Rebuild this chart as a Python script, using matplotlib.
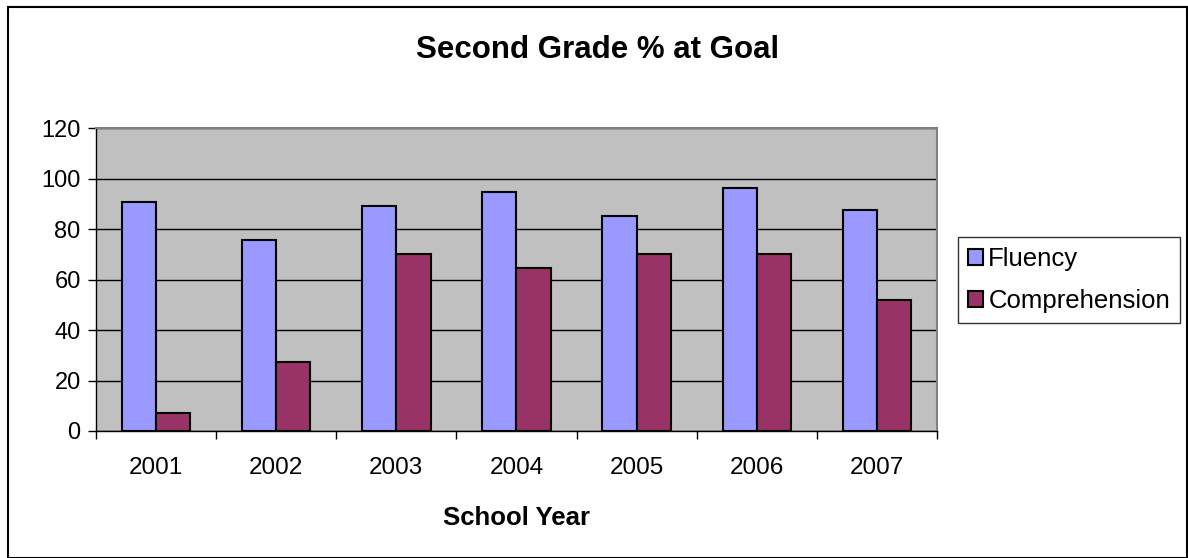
import numpy as np
import matplotlib.pyplot as plt
from matplotlib.patches import Rectangle

years = ['2001', '2002', '2003', '2004', '2005', '2006', '2007']
fluency = [90.7, 75.5, 89.0, 94.5, 85.0, 96.1, 87.4]
comprehension = [7, 27.4, 70, 64.6, 70, 70, 52]

plt.rcParams['font.family'] = ['Liberation Sans', 'DejaVu Sans']

fig = plt.figure(figsize=(11.88, 5.58), dpi=100)
ax = fig.add_axes([0.0808, 0.2276, 0.7079, 0.543])

x = np.arange(len(years))
w = 0.285
ax.bar(x - w / 2, fluency, w, color='#9999ff', edgecolor='black', linewidth=1.5, label='Fluency', zorder=3)
ax.bar(x + w / 2, comprehension, w, color='#993366', edgecolor='black', linewidth=1.5, label='Comprehension', zorder=3)

ax.set_facecolor('#c0c0c0')
ax.set_xlim(-0.5, len(years) - 0.5)
ax.set_ylim(0, 120)
ax.set_yticks(range(0, 121, 20))
ax.yaxis.grid(True, color='black', linewidth=1)
ax.set_axisbelow(True)

ax.set_xticks(x)
ax.set_xticklabels(years)
ax.set_xticks(np.arange(-0.5, len(years), 1), minor=True)
ax.tick_params(axis='x', which='major', length=0, pad=19, labelsize=17.5)
ax.tick_params(axis='x', which='minor', length=6, width=1)
ax.tick_params(axis='y', length=6, width=1, labelsize=17, pad=5)

for s in ['top', 'right']:
    ax.spines[s].set_color('#808080')
    ax.spines[s].set_linewidth(1.5)
for s in ['left', 'bottom']:
    ax.spines[s].set_color('black')
    ax.spines[s].set_linewidth(1)

ax.set_xlabel('School Year', fontsize=18.5, fontweight='bold', labelpad=19)
fig.text(0.503, 0.911, 'Second Grade % at Goal', ha='center', va='center',
         fontsize=22.5, fontweight='bold')

leg = ax.legend(loc='center left', bbox_to_anchor=(0.806, 0.4986), bbox_transform=fig.transFigure,
                frameon=True, fancybox=False, fontsize=18.5, handlelength=0.6, handleheight=0.6,
                handletextpad=0.2, labelspacing=0.7, borderpad=0.4, borderaxespad=0)
leg.get_frame().set_edgecolor('black')
leg.get_frame().set_linewidth(1)

fig.patches.append(Rectangle((0.007, 0.0), 0.992, 0.987, transform=fig.transFigure,
                             fill=False, edgecolor='black', linewidth=1.5))

fig.savefig('out.png', dpi=100)
